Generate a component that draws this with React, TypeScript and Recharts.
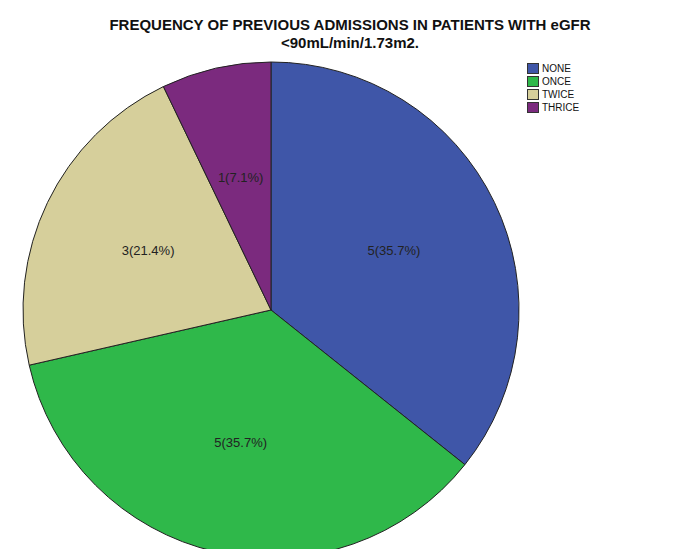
import { Pie, PieChart, Cell } from 'recharts'

const categories = ['NONE', 'ONCE', 'TWICE', 'THRICE']
const counts = [5, 5, 3, 1]
const percents = ['35.7', '35.7', '21.4', '7.1']
const colors = ['#3f56a8', '#2fb84a', '#d6cf9b', '#7b2a7e']

const data = categories.map((name, i) => ({ name, value: counts[i], pct: percents[i] }))

const renderLabel = (props: any) => {
  const { cx, cy, midAngle, outerRadius, index } = props
  const RAD = Math.PI / 180
  const r = outerRadius * 0.55
  const x = cx + r * Math.cos(-midAngle * RAD)
  const y = cy + r * Math.sin(-midAngle * RAD)
  return (
    <text x={x} y={y} textAnchor="middle" dominantBaseline="central" fontSize={13} fill="#222" fontFamily="Liberation Sans, Arial">
      {`${counts[index]}(${percents[index]}%)`}
    </text>
  )
}

export default function App() {
  return (
    <div style={{ position: 'relative', width: 700, height: 557, background: '#fff', margin: -8, fontFamily: 'Liberation Sans, Arial' }}>
      <div style={{ position: 'absolute', left: 0, top: 16, width: 700, textAlign: 'center', fontWeight: 'bold', fontSize: 15, lineHeight: '18px', color: '#111' }}>
        FREQUENCY OF PREVIOUS ADMISSIONS IN PATIENTS WITH eGFR
        <br />
        &lt;90mL/min/1.73m2.
      </div>
      <div style={{ position: 'absolute', left: 527, top: 62, fontSize: 10, color: '#111' }}>
        {categories.map((c, i) => (
          <div key={c} style={{ display: 'flex', alignItems: 'center', height: 13 }}>
            <span style={{ width: 10, height: 9, background: colors[i], border: '1px solid #333', marginRight: 3 }} />
            {c}
          </div>
        ))}
      </div>
      <PieChart width={700} height={557} style={{ position: 'absolute', left: 0, top: 0 }}>
        <Pie
          data={data}
          dataKey="value"
          cx={266}
          cy={305}
          outerRadius={248}
          startAngle={90}
          endAngle={-270}
          stroke="#222"
          strokeWidth={1}
          label={renderLabel}
          labelLine={false}
          isAnimationActive={false}
        >
          {data.map((d, i) => (
            <Cell key={d.name} fill={colors[i]} />
          ))}
        </Pie>
      </PieChart>
    </div>
  )
}
